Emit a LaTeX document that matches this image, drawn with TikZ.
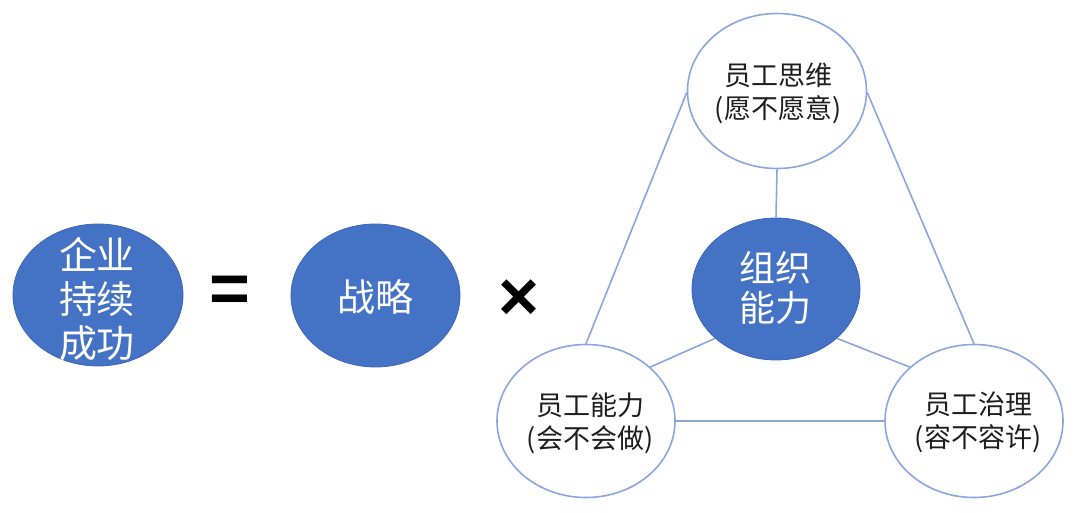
\documentclass[tikz,border=0pt]{standalone}
\usepackage{fontspec}
\newfontfamily\cjk{Noto Sans CJK SC}
\newfontfamily\symfont{Liberation Sans}
\usetikzlibrary{shapes.geometric}
\definecolor{fillblue}{HTML}{4472C4}
\definecolor{edgeblue}{HTML}{3B65B8}
\definecolor{lineblue}{HTML}{8AA6E0}
\definecolor{txtdark}{HTML}{1E1E1E}
\tikzset{
  blueell/.style={ellipse, fill=fillblue, draw=edgeblue, line width=0.8pt, inner sep=0pt},
  whiteell/.style={ellipse, fill=white, draw=lineblue, line width=1.6pt, inner sep=0pt},
  conn/.style={draw=lineblue, line width=1.6pt},
  wtxt/.style={text=white, align=center, inner sep=0pt},
  btxt/.style={text=txtdark, align=center, inner sep=0pt, font=\cjk\fontsize{27pt}{33pt}\selectfont},
  optxt/.style={text=black, inner sep=0pt, font=\symfont\bfseries\fontsize{70pt}{70pt}\selectfont}
}
\begin{document}
\begin{tikzpicture}[x=1pt, y=-1pt]
\useasboundingbox (0,0) rectangle (1080,513);
% left side
\node[blueell, minimum width=170pt, minimum height=142pt] (succ) at (98,295) {};
\node[wtxt, font=\cjk\fontsize{38pt}{44pt}\selectfont] (succt) at (97,299) {企业\\持续\\成功};
\node[optxt] (eq) at (230,294) {=};
\node[blueell, minimum width=169pt, minimum height=143pt] (strat) at (375.5,295.5) {};
\node[wtxt, font=\cjk\fontsize{38pt}{44pt}\selectfont] (stratt) at (375.5,297) {战略};
\node[optxt] (times) at (519,300) {×};
% triangle
\node[whiteell, minimum width=179pt, minimum height=155pt] (top) at (777,91) {};
\node[blueell, minimum width=168pt, minimum height=142pt] (ctr) at (776,289) {};
\node[whiteell, minimum width=178pt, minimum height=153pt] (bl) at (586,421) {};
\node[whiteell, minimum width=178pt, minimum height=153pt] (br) at (974,421) {};
% connectors
\draw[conn] (top.181) -- (bl.north);
\draw[conn] (top.359) -- (br.north);
\draw[conn] (top.south) -- (ctr.north);
\draw[conn] (bl.east) -- (br.west);
\draw[conn] (ctr.219) -- (bl.40);
\draw[conn] (ctr.321) -- (br.140);
% texts
\node[btxt] (topt) at (778,93.5) {员工思维\\(愿不愿意)};
\node[wtxt, font=\cjk\fontsize{36pt}{40pt}\selectfont] (ctrt) at (775,288) {组织\\能力};
\node[btxt] (blt) at (590,423.5) {员工能力\\(会不会做)};
\node[btxt] (brt) at (978,422) {员工治理\\(容不容许)};
\end{tikzpicture}
\end{document}
